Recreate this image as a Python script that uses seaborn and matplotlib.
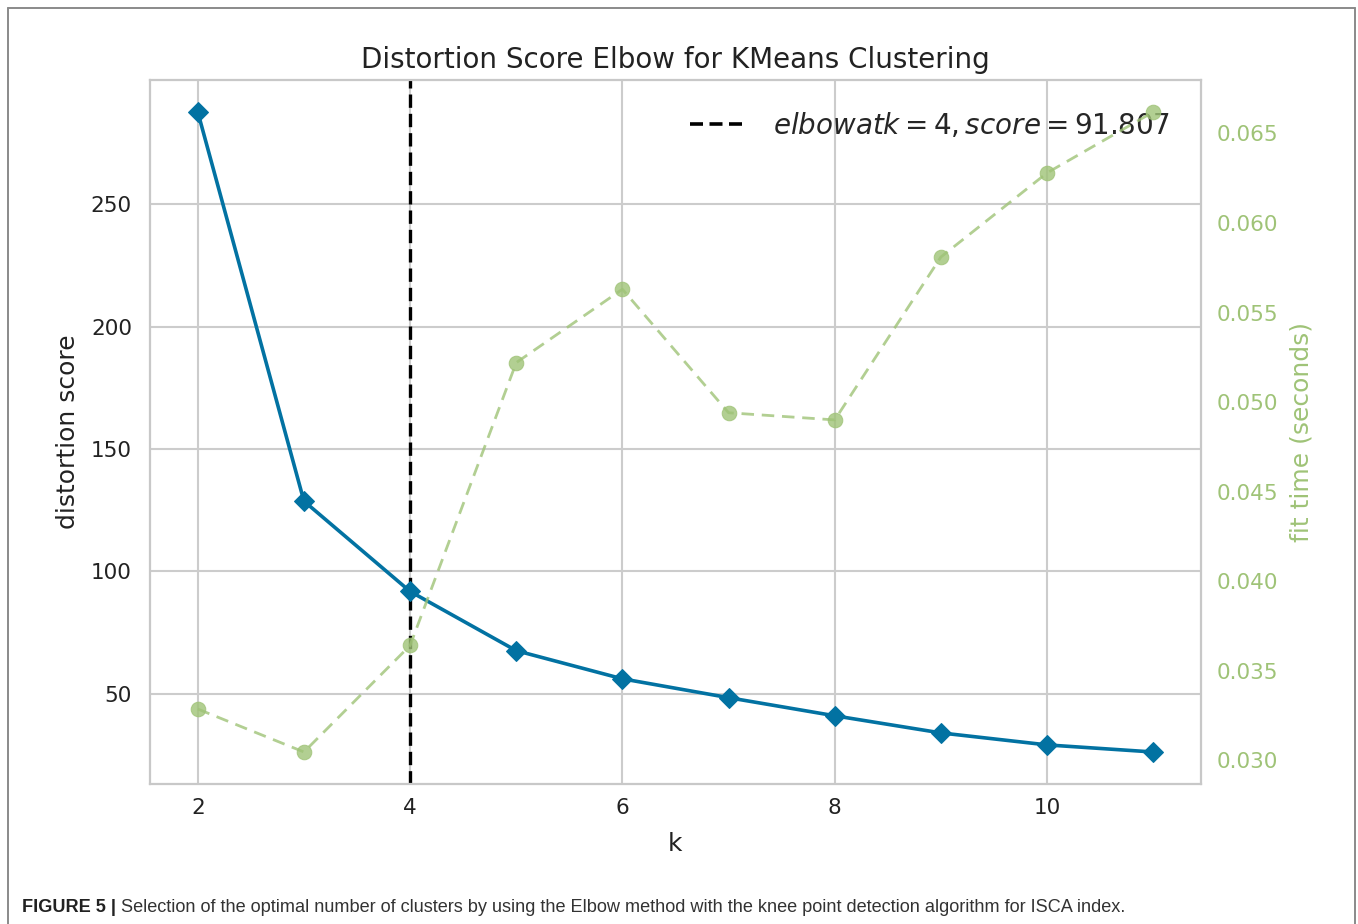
import matplotlib
matplotlib.use("Agg")
import matplotlib.pyplot as plt
import seaborn as sns
import pandas as pd
from matplotlib.lines import Line2D

# ---- data ----
k_values = [2, 3, 4, 5, 6, 7, 8, 9, 10, 11]
distortion = [287.7, 128.7, 91.807, 67.6, 56.1, 48.4, 41.0, 34.0, 29.1, 26.2]
fit_time = [0.03285, 0.03045, 0.0364, 0.0522, 0.0563, 0.0494, 0.0490, 0.0581, 0.0628, 0.0662]
elbow_k = 4
elbow_score = 91.807
x_ticks = [2, 4, 6, 8, 10]
y_ticks = [50, 100, 150, 200, 250]
y2_ticks = [0.030, 0.035, 0.040, 0.045, 0.050, 0.055, 0.060, 0.065]
title = "Distortion Score Elbow for KMeans Clustering"
caption_bold = "FIGURE 5 |"
caption_text = ("Selection of the optimal number of clusters by using the Elbow method "
                "with the knee point detection algorithm for ISCA index.")

BLUE = "#0272a2"
GREEN = "#9fc377"

sns.set_theme(style="whitegrid")
plt.rcParams["font.family"] = ["DejaVu Sans"]
plt.rcParams["mathtext.fontset"] = "dejavusans"

W, H = 1358, 924
fig = plt.figure(figsize=(W / 100, H / 100), dpi=100)
fig.patch.set_facecolor("white")

ax = fig.add_axes([150 / W, 1 - 784 / H, (1201 - 150) / W, (784 - 80) / H])
df = pd.DataFrame({"k": k_values, "distortion": distortion, "fit": fit_time})

sns.lineplot(data=df, x="k", y="distortion", ax=ax, color=BLUE, marker="D",
             markersize=10.5, linewidth=2.6, markeredgecolor=BLUE, zorder=3)
ax.axvline(elbow_k, color="black", linestyle="--", linewidth=2.4, dashes=(4.0, 1.8),
           zorder=2)

ax.set_xticks(x_ticks)
ax.set_yticks(y_ticks)
ax.grid(True, color="#cccccc", linewidth=1.5)
for s in ax.spines.values():
    s.set_color("#c8c8c8")
    s.set_linewidth(1.6)
ax.tick_params(axis="both", length=0, labelsize=15.5, colors="#222222")
ax.tick_params(axis="y", pad=13)
ax.tick_params(axis="x", pad=10)
ax.set_xlabel("k", fontsize=18, color="#222222", labelpad=10)
ax.set_ylabel("distortion score", fontsize=18, color="#222222", labelpad=8)
ax.set_title(title, fontsize=20, color="#222222", pad=9)

leg_handle = Line2D([0], [0], color="black", linestyle="--", linewidth=2.6, dashes=(3.6, 1.8))
ax.legend([leg_handle],
          [r"$elbow at k=%d, score=%.3f$" % (elbow_k, elbow_score)],
          loc="upper right", frameon=False, fontsize=20, handlelength=2.0,
          handletextpad=1.0, borderaxespad=0.7)

ax2 = ax.twinx()
sns.lineplot(data=df, x="k", y="fit", ax=ax2, color=GREEN, marker="o",
             markersize=10.5, linewidth=2.0, alpha=0.8,
             markeredgecolor=GREEN)
ax2.lines[0].set_linestyle((0, (4.5, 2.8)))
ax2.grid(False)
ax2.set_yticks(y2_ticks)
ax2.tick_params(axis="y", length=0, labelsize=15.5, colors=GREEN, pad=11)
ax2.set_ylabel("fit time (seconds)", fontsize=18, color=GREEN, labelpad=8)
ax2.set_xlabel("")
for s in ax2.spines.values():
    s.set_visible(False)

# caption
t1 = fig.text(22 / W, 1 - 912 / H, caption_bold, fontsize=13.1, fontweight="bold",
              family="Liberation Sans", color="#222222", va="baseline")
fig.canvas.draw()
bb = t1.get_window_extent()
fig.text((bb.x1 + 5) / W, 1 - 912 / H, caption_text, fontsize=13.1,
         family="Liberation Sans", color="#333333", va="baseline")

# outer frame (open at the bottom)
for xs, ys in [([8, 8], [924, 8]), ([8, 1355], [8, 8]), ([1355, 1355], [924, 8])]:
    fig.add_artist(Line2D([x / W for x in xs], [1 - y / H for y in ys],
                          transform=fig.transFigure, color="#8a8a8a", linewidth=1.4))

fig.savefig("out.png", dpi=100)
